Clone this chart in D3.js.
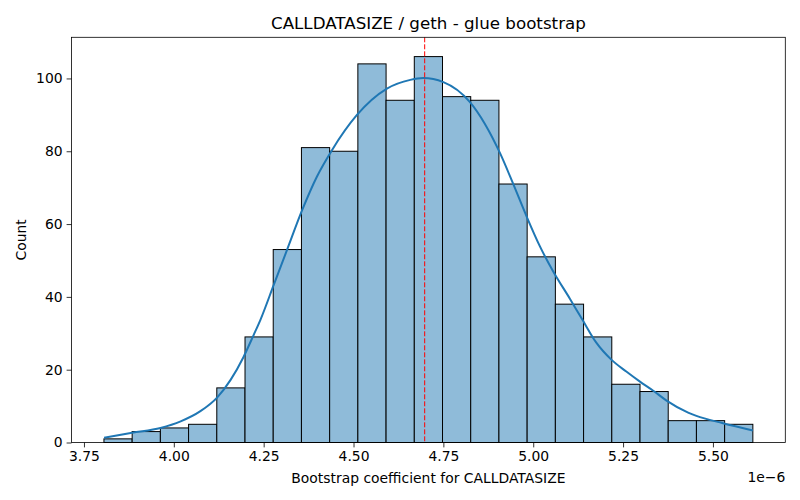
<!DOCTYPE html>
<html>
<head>
<meta charset="utf-8">
<script src="https://cdn.jsdelivr.net/npm/d3@7"></script>
<style>
  body { margin: 0; background: #fff; }
  svg { font-family: "DejaVu Sans", sans-serif; }
</style>
</head>
<body>
<svg id="chart" width="800" height="500"></svg>
<script>
// histogram bins (units of 1e-6)
let binStart = 3.8056, binWidth = 0.0785;
let counts = [1, 3, 4, 5, 15, 29, 53, 81, 80, 104, 94, 106, 95, 94, 71, 51, 38, 29, 16, 14, 6, 6, 5];

// kde curve (x in 1e-6, y in counts)
let kdeX = [3.806, 3.884, 3.963, 4.019, 4.074, 4.121, 4.158, 4.194, 4.222, 4.241, 4.278, 4.315, 4.357,
            4.398, 4.440, 4.509, 4.593, 4.658, 4.694, 4.750, 4.824, 4.908, 4.944, 4.982, 5.019, 5.056,
            5.102, 5.137, 5.175, 5.218, 5.259, 5.296, 5.333, 5.371, 5.431, 5.454, 5.528, 5.611];
let kdeY = [1.3, 2.7, 4.0, 5.8, 8.6, 12.4, 17.2, 23.5, 29.5, 33.7, 43.3, 52.9, 63.8,
            73, 80.3, 89.9, 97.2, 99.6, 100.1, 99, 93.5, 79.4, 71.1, 62, 53.8, 46.9,
            39.5, 33.7, 27.5, 22.7, 19.5, 16.8, 14.3, 11.5, 8.2, 7.3, 5.3, 3.3];

let meanLine = 4.698;
let xTicks = [3.75, 4.00, 4.25, 4.50, 4.75, 5.00, 5.25, 5.50];
let yTicks = [0, 20, 40, 60, 80, 100];

let titleText = 'CALLDATASIZE / geth - glue bootstrap';
let xLabel = 'Bootstrap coefficient for CALLDATASIZE';
let yLabel = 'Count';

let plotLeft = 71.5, plotRight = 785.3, plotTop = 37.3, plotBottom = 442.5;

let svg = d3.select('#chart');

let binEnd = binStart + binWidth * counts.length;
let pad = (binEnd - binStart) * 0.05;
let x = d3.scaleLinear().domain([binStart - pad, binEnd + pad]).range([plotLeft, plotRight]);
let y = d3.scaleLinear().domain([0, d3.max(counts) * 1.05]).range([plotBottom, plotTop]);

// bars
svg.append('g').selectAll('rect')
    .data(counts)
    .enter()
    .append('rect')
    .attr('x', (d, i) => x(binStart + i * binWidth))
    .attr('y', d => y(d))
    .attr('width', (d, i) => x(binStart + (i + 1) * binWidth) - x(binStart + i * binWidth))
    .attr('height', d => plotBottom - y(d))
    .attr('fill', '#8fbbd9')
    .attr('stroke', '#000')
    .attr('stroke-width', 1);

// kde
let line = d3.line().x(d => x(d[0])).y(d => y(d[1])).curve(d3.curveMonotoneX);
svg.append('path')
    .datum(kdeX.map((v, i) => [v, kdeY[i]]))
    .attr('d', line)
    .attr('fill', 'none')
    .attr('stroke', '#1f77b4')
    .attr('stroke-width', 2);

// mean line
svg.append('line')
    .attr('x1', x(meanLine)).attr('x2', x(meanLine))
    .attr('y1', plotTop).attr('y2', plotBottom)
    .attr('stroke', 'red')
    .attr('stroke-width', 1)
    .attr('stroke-dasharray', '5,2');

// axes
let xAxis = d3.axisBottom(x).tickValues(xTicks).tickFormat(d3.format('.2f')).tickSize(4.9).tickPadding(4);
let gx = svg.append('g').attr('transform', 'translate(0,' + plotBottom + ')').call(xAxis);
let yAxis = d3.axisLeft(y).tickValues(yTicks).tickSize(4.9).tickPadding(4);
let gy = svg.append('g').attr('transform', 'translate(' + plotLeft + ',0)').call(yAxis);
[gx, gy].forEach(g => {
    g.select('.domain').remove();
    g.selectAll('text').style('font-size', '13.9px').attr('fill', '#000').style('font-family', '"DejaVu Sans", sans-serif');
    g.selectAll('line').attr('stroke', '#000').attr('stroke-width', 0.8);
});

// frame
svg.append('rect')
    .attr('x', plotLeft).attr('y', plotTop)
    .attr('width', plotRight - plotLeft).attr('height', plotBottom - plotTop)
    .attr('fill', 'none').attr('stroke', '#000').attr('stroke-width', 0.8);

// texts
svg.append('text').attr('x', (plotLeft + plotRight) / 2).attr('y', 29)
    .attr('text-anchor', 'middle').style('font-size', '16.7px').text(titleText);
svg.append('text').attr('x', (plotLeft + plotRight) / 2).attr('y', 483)
    .attr('text-anchor', 'middle').style('font-size', '13.9px').text(xLabel);
svg.append('text').attr('transform', 'translate(26,' + ((plotTop + plotBottom) / 2) + ') rotate(-90)')
    .attr('text-anchor', 'middle').style('font-size', '13.9px').text(yLabel);
svg.append('text').attr('x', plotRight).attr('y', 482)
    .attr('text-anchor', 'end').style('font-size', '13.9px').text('1e\u22126');
</script>
</body>
</html>
